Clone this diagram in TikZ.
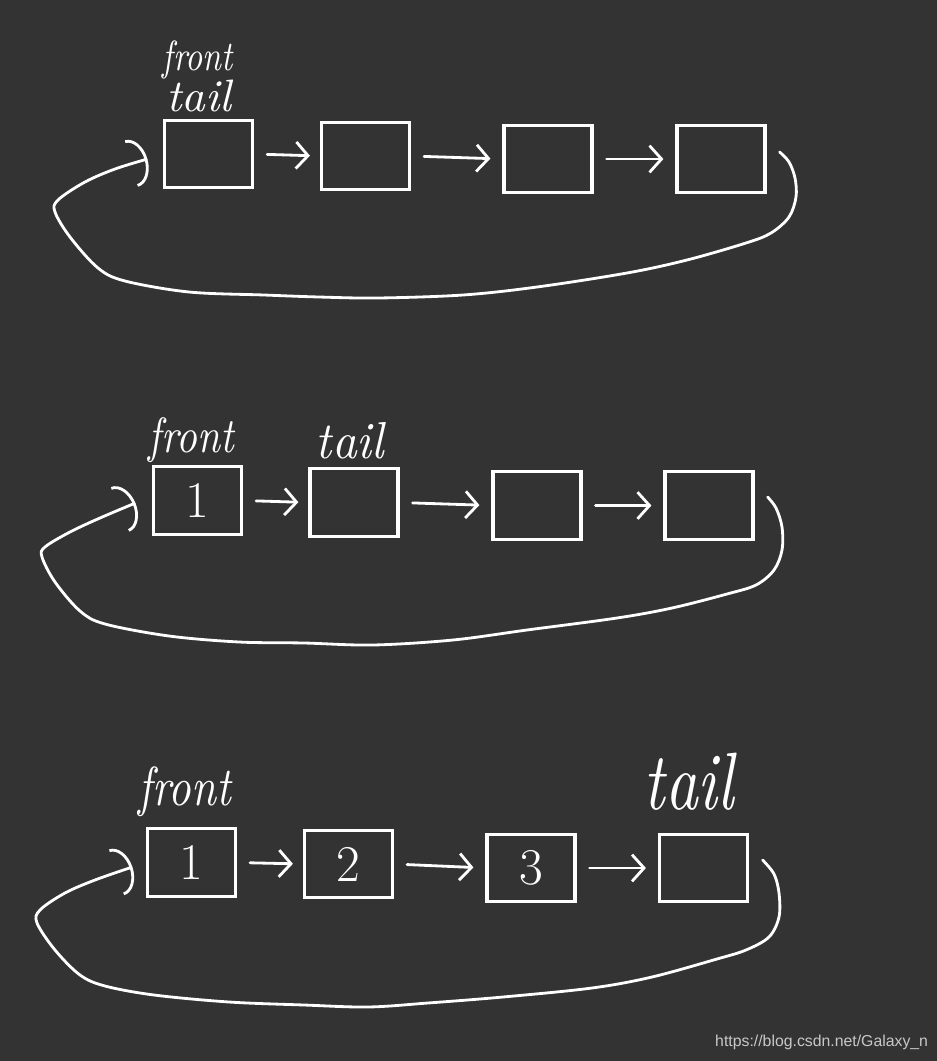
\documentclass[tikz,border=0pt]{standalone}
\usepackage{fontspec}
\usepackage{graphicx}
\usetikzlibrary{arrows.meta,calc}
\newfontfamily\wmfont{Liberation Sans}
\definecolor{bgc}{HTML}{333333}
\definecolor{wmc}{HTML}{C8C8C8}
\tikzset{
  qbox/.style={draw=white, line width=2.7pt, minimum width=2.64cm, minimum height=2.02cm,
    inner sep=0pt, text=white, font=\fontsize{44pt}{44pt}\selectfont},
  link/.style={draw=white, line width=2.4pt, line cap=round, line join=round,
    -{Straight Barb[length=0.36cm,width=0.8cm]}, shorten <=0.39cm, shorten >=0.36cm},
  ring/.style={draw=white, line width=2.4pt, line cap=round, line join=round,
    -{Arc Barb[length=0.5cm,width=1.45cm]}},
  hand/.style={text=white, inner sep=0pt},
}
\begin{document}
\begin{tikzpicture}[x=0.03cm,y=-0.03cm]
\fill[bgc] (0,0) rectangle (937,1061);
\useasboundingbox (0,0) rectangle (937,1061);

% ---------- diagram 1 ----------
\node[qbox] (A1) at (208.5,154) {};
\node[qbox] (A2) at (365.5,156) {};
\node[qbox] (A3) at (548,159) {};
\node[qbox] (A4) at (721,159) {};
\node[hand] (fa) at (198,60) {\resizebox*{2.1cm}{1.15cm}{\itshape front}};
\node[hand] (ta) at (199,96) {\resizebox*{1.95cm}{0.96cm}{\itshape tail}};
\draw[link, shorten >=0.3cm] (A1.east) -- (A2.west);
\draw[link] (A2.east) -- (A3.west);
\draw[link] (A3.east) -- (A4.west);
\coordinate (s1) at ($(A4.east)+(13,-7)$);
\coordinate (e1) at ($(A1.west)+(-15.5,5)$);
\draw[ring] plot[smooth,tension=0.55] coordinates {(s1) (789,162) (795,178) (796,197) (789,217) (771,233) (746,243) (687,260) (627,273) (537,287) (463,295) (378,298) (319,297) (264,295) (189,292) (125,281) (98,268) (70,237) (55,212) (58,200) (85,182) (115,169) (e1)};

% ---------- diagram 2 ----------
\node[qbox] (B1) at (197.5,500.5) {1};
\node[qbox] (B2) at (354,502.5) {};
\node[qbox] (B3) at (537,505.5) {};
\node[qbox] (B4) at (709,505.5) {};
\node[hand] (fb) at (191.5,440) {\resizebox*{2.55cm}{1.35cm}{\itshape front}};
\node[hand] (tb) at (350,441) {\resizebox*{2.04cm}{1.1cm}{\itshape tail}};
\draw[link, shorten >=0.3cm] (B1.east) -- (B2.west);
\draw[link] (B2.east) -- (B3.west);
\draw[link] (B3.east) -- (B4.west);
\coordinate (s2) at ($(B4.east)+(13,-8.5)$);
\coordinate (e2) at ($(B1.west)+(-16.5,2.5)$);
\draw[ring] plot[smooth,tension=0.55] coordinates {(s2) (776,508) (782,527) (782,550) (774,570) (756,585) (727,594) (672,608) (617,618) (527,630) (453,640) (373,645) (304,643) (239,642) (169,636) (105,624) (80,611) (55,582) (42,557) (45,547) (70,532) (100,518) (e2)};

% ---------- diagram 3 ----------
\node[qbox] (C1) at (191.5,862.5) {1};
\node[qbox] (C2) at (348.5,864) {2};
\node[qbox] (C3) at (531,868) {3};
\node[qbox] (C4) at (703.5,868) {};
\node[hand] (fc) at (185,792) {\resizebox*{2.76cm}{1.5cm}{\itshape front}};
\node[hand] (tc) at (689,782) {\resizebox*{2.7cm}{1.72cm}{\itshape tail}};
\draw[link, shorten >=0.3cm] (C1.east) -- (C2.west);
\draw[link] (C2.east) -- (C3.west);
\draw[link] (C3.east) -- (C4.west);
\coordinate (s3) at ($(C4.east)+(13.5,-8)$);
\coordinate (e3) at ($(C1.west)+(-13.5,4.5)$);
\draw[ring] plot[smooth,tension=0.55] coordinates {(s3) (774,874) (779,893) (779,917) (769,937) (746,950) (717,959) (652,977) (592,988) (503,997) (428,1003) (368,1007) (304,1005) (229,1002) (154,995) (105,986) (80,975) (55,950) (37,923) (40,910) (65,893) (95,880) (e3)};

% ---------- watermark ----------
\node[anchor=west, inner sep=0pt, text=wmc, font=\wmfont\fontsize{13.5pt}{14pt}\selectfont] (wm) at (715,1042) {https://blog.csdn.net/Galaxy\_n};
\end{tikzpicture}
\end{document}
